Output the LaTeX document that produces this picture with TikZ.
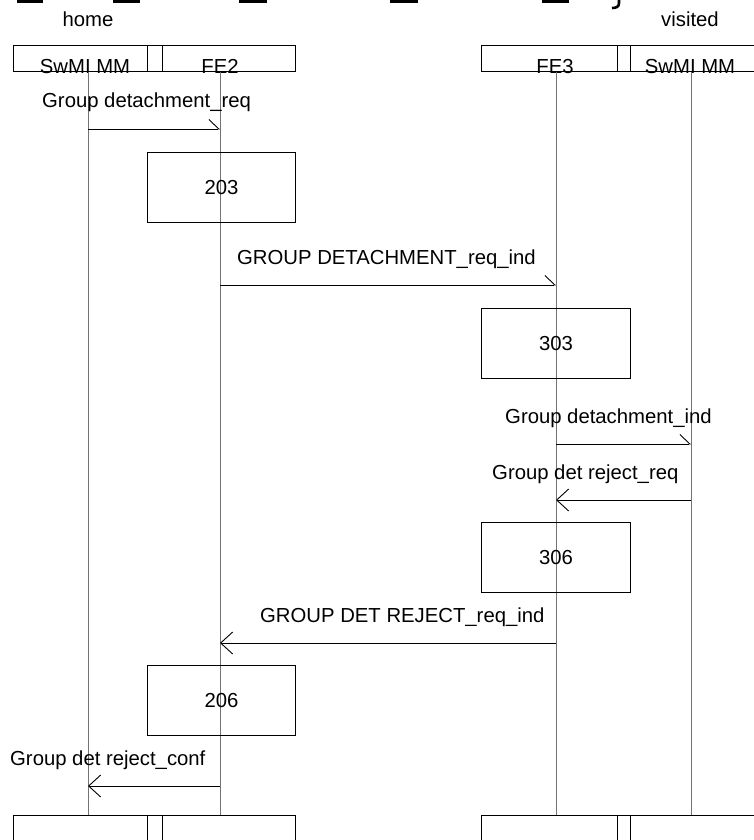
\documentclass[tikz,border=0pt]{standalone}
\usepackage{fontspec}
\setmainfont{Liberation Sans}
\usetikzlibrary{arrows.meta}

\begin{document}
\begin{tikzpicture}[x=1pt, y=-1pt,
    every node/.style={font=\fontsize{20.3}{24}\selectfont, inner sep=0pt},
    box/.style={draw, line width=0.9pt, anchor=north west},
    life/.style={draw=black!55, line width=1pt},
    msgR/.style={line width=0.9pt, -{Straight Barb[harpoon, length=10pt, width=19pt]}},
    msgL/.style={line width=0.9pt, -{Straight Barb[length=12pt, width=22pt]}},
    lbl/.style={anchor=base west}]

    \useasboundingbox (0,0) rectangle (754,840);

    % clipped title remains
    \foreach \a/\b in {17/43,113/140,239/267,390/418,542/569}{
        \draw[line width=2.6pt] (\a,1.3) -- (\b,1.3);
    }
    \draw[line width=2.6pt] (619,-2) -- (619,3) .. controls (619,7) and (616,8) .. (612,8);

    % side labels
    \node[anchor=base] (home) at (88,27) {home};
    \node[anchor=base] (visited) at (690,27) {visited};

    % header boxes
    \node[box, minimum width=134pt, minimum height=26pt] (hSwmiA) at (13,45) {};
    \node[box, minimum width=15pt, minimum height=26pt] (hGapA) at (147,45) {};
    \node[box, minimum width=133pt, minimum height=26pt] (hFe2) at (162,45) {};
    \node[box, minimum width=136pt, minimum height=26pt] (hFe3) at (481,45) {};
    \node[box, minimum width=13pt, minimum height=26pt] (hGapB) at (617,45) {};
    \node[box, minimum width=140pt, minimum height=26pt] (hSwmiB) at (630,45) {};
    \node[anchor=base] (tSwmiA) at (85,73.5) {SwMI MM};
    \node[anchor=base] (tFe2) at (220,73.5) {FE2};
    \node[anchor=base] (tFe3) at (555,73.5) {FE3};
    \node[anchor=base] (tSwmiB) at (690,73.5) {SwMI MM};

    % footer boxes
    \node[box, minimum width=134pt, minimum height=40pt] (bSwmiA) at (13,815) {};
    \node[box, minimum width=15pt, minimum height=40pt] (bGapA) at (147,815) {};
    \node[box, minimum width=133pt, minimum height=40pt] (bFe2) at (162,815) {};
    \node[box, minimum width=136pt, minimum height=40pt] (bFe3) at (481,815) {};
    \node[box, minimum width=13pt, minimum height=40pt] (bGapB) at (617,815) {};
    \node[box, minimum width=140pt, minimum height=40pt] (bSwmiB) at (630,815) {};

    % lifelines
    \coordinate (lA) at (88,72);
    \coordinate (lB) at (220,72);
    \coordinate (lC) at (556,72);
    \coordinate (lD) at (691,72);
    \foreach \l in {lA,lB,lC,lD}{
        \draw[life] (\l) -- (\l |- bFe2.north);
    }

    % processing boxes
    \node[box, minimum width=148pt, minimum height=70pt] (p203) at (147,152) {203};
    \node[box, minimum width=149pt, minimum height=70pt] (p303) at (481,308) {303};
    \node[box, minimum width=149pt, minimum height=70pt] (p306) at (481,522) {306};
    \node[box, minimum width=148pt, minimum height=70pt] (p206) at (147,665) {206};

    % messages
    \coordinate (m1) at (0,129);
    \node[lbl] (t1) at (42,108) {Group detachment\_req};
    \draw[msgR] (lA |- m1) -- (lB |- m1);

    \coordinate (m2) at (0,285);
    \node[lbl] (t2) at (237,264) {GROUP DETACHMENT\_req\_ind};
    \draw[msgR] (lB |- m2) -- (lC |- m2);

    \coordinate (m3) at (0,444);
    \node[lbl] (t3) at (505,423) {Group detachment\_ind};
    \draw[msgR] (lC |- m3) -- (lD |- m3);

    \coordinate (m4) at (0,500);
    \node[lbl] (t4) at (492,479) {Group det reject\_req};
    \draw[msgL] (lD |- m4) -- (lC |- m4);

    \coordinate (m5) at (0,643);
    \node[lbl] (t5) at (260,622) {GROUP DET REJECT\_req\_ind};
    \draw[msgL] (lC |- m5) -- (lB |- m5);

    \coordinate (m6) at (0,786);
    \node[lbl] (t6) at (10,765) {Group det reject\_conf};
    \draw[msgL] (lB |- m6) -- (lA |- m6);
\end{tikzpicture}
\end{document}
